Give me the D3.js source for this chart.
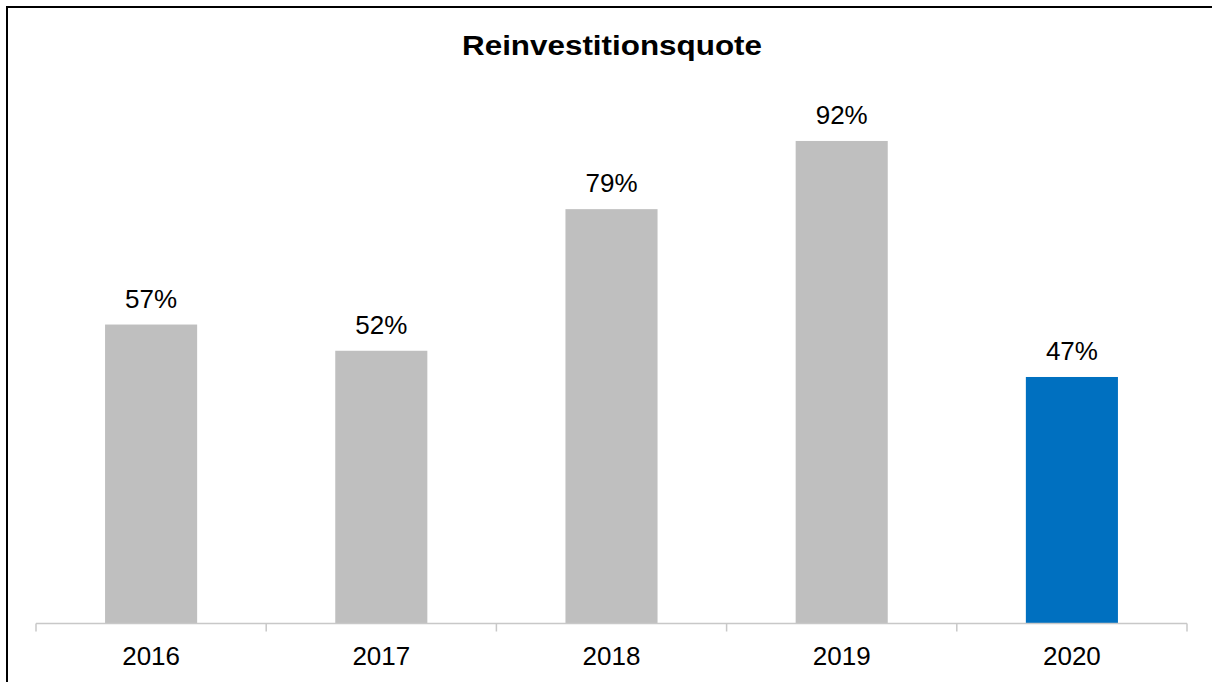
<!DOCTYPE html>
<html>
<head>
<meta charset="utf-8">
<script src="https://cdn.jsdelivr.net/npm/d3@7"></script>
<style>
  html, body { margin: 0; padding: 0; background: #fff; overflow: hidden; }
  svg { display: block; }
</style>
</head>
<body>
<svg id="chart" width="1212" height="682"></svg>
<script>
// Reinvestment ratio by year
const years = ["2016", "2017", "2018", "2019", "2020"];
const ratios = [0.57, 0.52, 0.79, 0.92, 0.47];
const barColors = ["#bfbfbf", "#bfbfbf", "#bfbfbf", "#bfbfbf", "#0070c0"];
const title = "Reinvestitionsquote";

const svg = d3.select("#chart");
const W = 1212, H = 682;
const font = "'Liberation Sans', Arial, sans-serif";

// frame: left and top edges
svg.append("path")
  .attr("d", `M7,${H + 5} L7,7 L${W + 5},7`)
  .attr("fill", "none")
  .attr("stroke", "#000")
  .attr("stroke-width", 2);

const x = d3.scaleBand().domain(years).range([36, 1187]).paddingInner(0).paddingOuter(0);
const y = d3.scaleLinear().domain([0, 1]).range([623.5, 99]);
const barW = x.bandwidth() * 0.4;

// title
svg.append("text")
  .attr("x", 612).attr("y", 55)
  .attr("text-anchor", "middle")
  .attr("font-family", font)
  .attr("font-weight", "bold")
  .attr("font-size", 28)
  .attr("textLength", 300)
  .attr("lengthAdjust", "spacingAndGlyphs")
  .attr("fill", "#000")
  .text(title);

// bars
svg.selectAll("rect.bar")
  .data(years)
  .join("rect")
  .attr("class", "bar")
  .attr("x", d => x(d) + (x.bandwidth() - barW) / 2)
  .attr("y", (d, i) => y(ratios[i]))
  .attr("width", barW)
  .attr("height", (d, i) => y(0) - y(ratios[i]))
  .attr("fill", (d, i) => barColors[i]);

// value labels
svg.selectAll("text.value")
  .data(years)
  .join("text")
  .attr("class", "value")
  .attr("x", d => x(d) + x.bandwidth() / 2)
  .attr("y", (d, i) => y(ratios[i]) - 17)
  .attr("text-anchor", "middle")
  .attr("font-family", font)
  .attr("font-size", 26)
  .attr("fill", "#000")
  .text((d, i) => d3.format(".0%")(ratios[i]));

// category axis with ticks at band boundaries
const axisG = svg.append("g").attr("transform", `translate(0,${y(0)})`);
axisG.append("line")
  .attr("x1", x.range()[0]).attr("x2", x.range()[1])
  .attr("y1", 0).attr("y2", 0)
  .attr("stroke", "#c8c8c8").attr("stroke-width", 1.5);
const bounds = years.map(d => x(d)).concat([x.range()[1]]);
axisG.selectAll("line.tick")
  .data(bounds)
  .join("line")
  .attr("class", "tick")
  .attr("x1", d => d).attr("x2", d => d)
  .attr("y1", 0).attr("y2", 8)
  .attr("stroke", "#c8c8c8").attr("stroke-width", 1.5);
axisG.selectAll("text.cat")
  .data(years)
  .join("text")
  .attr("class", "cat")
  .attr("x", d => x(d) + x.bandwidth() / 2)
  .attr("y", 41.5)
  .attr("text-anchor", "middle")
  .attr("font-family", font)
  .attr("font-size", 26)
  .attr("fill", "#000")
  .text(d => d);
</script>
</body>
</html>
